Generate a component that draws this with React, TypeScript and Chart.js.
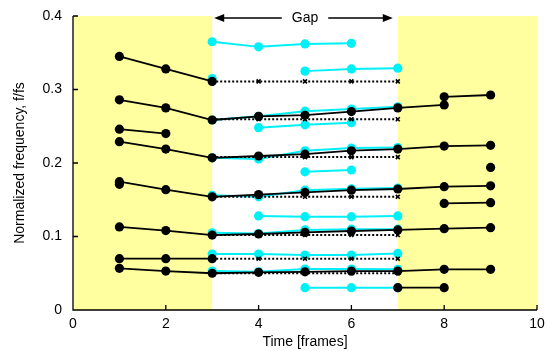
import React, { useEffect, useRef } from 'react';
import { Chart, registerables } from 'chart.js';

Chart.register(...registerables);

// ---- data ----
const xTicks = [0, 2, 4, 6, 8, 10];
const yTicks = [0, 0.1, 0.2, 0.3, 0.4];
const shadedRanges = [[0, 3], [7, 10]];
const gapRange = [3, 7];
const gapLabel = 'Gap';

// black (tracked) series
const b1x = [1, 2, 3];
const b1y = [0.345, 0.328, 0.311];
const b2x = [1, 2, 3, 4, 5, 6, 7, 8];
const b2y = [0.286, 0.275, 0.2585, 0.2635, 0.265, 0.27, 0.275, 0.279];
const b3x = [8, 9];
const b3y = [0.29, 0.2925];
const b4x = [1, 2];
const b4y = [0.246, 0.24];
const b5x = [1, 2, 3, 4, 5, 6, 7, 8, 9];
const b5y = [0.229, 0.219, 0.207, 0.2095, 0.212, 0.2167, 0.219, 0.223, 0.224];
const b6x = [1, 2, 3, 4, 5, 6, 7, 8, 9];
const b6y = [0.1746, 0.1637, 0.154, 0.157, 0.16, 0.163, 0.1646, 0.1678, 0.169];
const b7x = [1];
const b7y = [0.171];
const b8x = [8, 9];
const b8y = [0.145, 0.146];
const b9x = [9];
const b9y = [0.194];
const b10x = [1, 2, 3, 4, 5, 6, 7, 8, 9];
const b10y = [0.113, 0.108, 0.102, 0.1034, 0.1057, 0.1075, 0.109, 0.1107, 0.112];
const b11x = [1, 2, 3];
const b11y = [0.0698, 0.0698, 0.0698];
const b12x = [1, 2, 3, 4, 5, 6, 7, 8, 9];
const b12y = [0.0567, 0.053, 0.05, 0.0513, 0.052, 0.053, 0.053, 0.0553, 0.0553];
const b13x = [7, 8];
const b13y = [0.0304, 0.0304];

// cyan series
const c1x = [3, 4, 5, 6];
const c1y = [0.365, 0.358, 0.362, 0.3628];
const c2x = [5, 6, 7];
const c2y = [0.325, 0.328, 0.329];
const c3x = [3];
const c3y = [0.315];
const c4x = [3, 4, 5, 6, 7];
const c4y = [0.2585, 0.2635, 0.2705, 0.2735, 0.2765];
const c5x = [4, 5, 6];
const c5y = [0.248, 0.252, 0.2548];
const c6x = [3, 4, 5, 6, 7];
const c6y = [0.207, 0.2055, 0.2167, 0.2204, 0.221];
const c7x = [5, 6];
const c7y = [0.188, 0.1905];
const c8x = [3, 4, 5, 6, 7];
const c8y = [0.156, 0.154, 0.163, 0.165, 0.166];
const c9x = [4, 5, 6, 7];
const c9y = [0.128, 0.127, 0.127, 0.128];
const c10x = [3, 4, 5, 6, 7];
const c10y = [0.105, 0.104, 0.109, 0.11, 0.11];
const c11x = [3, 4, 5, 6, 7];
const c11y = [0.0762, 0.0762, 0.0748, 0.0748, 0.077];
const c12x = [3, 4, 5, 6, 7];
const c12y = [0.053, 0.052, 0.0558, 0.0558, 0.0553];
const c13x = [5, 6, 7];
const c13y = [0.0304, 0.0304, 0.0304];

// dotted (held) series
const heldX = [3, 4, 5, 6, 7];
const heldLevels = [0.311, 0.2595, 0.208, 0.154, 0.102, 0.0698, 0.05];

const BLACK = '#000000';
const CYAN = '#00F0F8';
const YELLOW = '#FFFFA0';
const FONT = '"Liberation Sans", Arial, Helvetica, sans-serif';

const pts = (xs: number[], ys: number[]) => xs.map((x, i) => ({ x, y: ys[i] }));

const blackSeries = [
  [b1x, b1y], [b2x, b2y], [b3x, b3y], [b4x, b4y], [b5x, b5y], [b6x, b6y], [b7x, b7y],
  [b8x, b8y], [b9x, b9y], [b10x, b10y], [b11x, b11y], [b12x, b12y], [b13x, b13y],
];
const cyanSeries = [
  [c1x, c1y], [c2x, c2y], [c3x, c3y], [c4x, c4y], [c5x, c5y], [c6x, c6y], [c7x, c7y],
  [c8x, c8y], [c9x, c9y], [c10x, c10y], [c11x, c11y], [c12x, c12y], [c13x, c13y],
];

const decorPlugin = {
  id: 'decor',
  beforeDatasetsDraw(chart: any) {
    const { ctx, scales } = chart;
    const xs = scales.x;
    const ys = scales.y;
    const top = ys.getPixelForValue(yTicks[yTicks.length - 1]);
    const bottom = ys.getPixelForValue(0);
    ctx.save();
    ctx.fillStyle = YELLOW;
    shadedRanges.forEach(([a, b]) => {
      const x0 = xs.getPixelForValue(a);
      const x1 = xs.getPixelForValue(b);
      ctx.fillRect(x0, top, x1 - x0, bottom - top);
    });
    const left = xs.getPixelForValue(0);
    const right = xs.getPixelForValue(10);
    ctx.strokeStyle = '#000';
    ctx.lineWidth = 1.3;
    ctx.beginPath();
    ctx.moveTo(left, top);
    ctx.lineTo(left, bottom);
    ctx.lineTo(right, bottom);
    ctx.stroke();
    ctx.beginPath();
    xTicks.slice(1).forEach((v) => {
      const p = xs.getPixelForValue(v);
      ctx.moveTo(p, bottom);
      ctx.lineTo(p, bottom - 5);
    });
    yTicks.slice(1).forEach((v) => {
      const p = ys.getPixelForValue(v);
      ctx.moveTo(left, p);
      ctx.lineTo(left + 5, p);
    });
    ctx.stroke();
    ctx.restore();
  },
  afterDraw(chart: any) {
    const { ctx, scales } = chart;
    const xs = scales.x;
    const ys = scales.y;
    const y = ys.getPixelForValue(yTicks[yTicks.length - 1]) + 2;
    const xa = xs.getPixelForValue(gapRange[0]);
    const xb = xs.getPixelForValue(gapRange[1]);
    const xm = (xa + xb) / 2;
    ctx.save();
    ctx.fillStyle = '#000';
    ctx.strokeStyle = '#000';
    ctx.lineWidth = 1.3;
    ctx.font = `14px ${FONT}`;
    ctx.textAlign = 'center';
    ctx.textBaseline = 'middle';
    ctx.fillText(gapLabel, xm, y);
    const tw = ctx.measureText(gapLabel).width;
    const a0 = xa + 2;
    const a1 = xm - tw / 2 - 10;
    const b0 = xm + tw / 2 + 10;
    const b1 = xb - 5;
    ctx.beginPath();
    ctx.moveTo(a0 + 8, y);
    ctx.lineTo(a1, y);
    ctx.moveTo(b0, y);
    ctx.lineTo(b1 - 8, y);
    ctx.stroke();
    ctx.beginPath();
    ctx.moveTo(a0, y);
    ctx.lineTo(a0 + 10, y - 4);
    ctx.lineTo(a0 + 10, y + 4);
    ctx.closePath();
    ctx.moveTo(b1, y);
    ctx.lineTo(b1 - 10, y - 4);
    ctx.lineTo(b1 - 10, y + 4);
    ctx.closePath();
    ctx.fill();
    ctx.restore();
  },
};

export default function App() {
  const ref = useRef<HTMLCanvasElement>(null);
  useEffect(() => {
    if (!ref.current) return;
    const datasets: any[] = [];
    blackSeries.forEach(([xs, ys]) => {
      datasets.push({
        data: pts(xs as number[], ys as number[]),
        borderColor: BLACK,
        backgroundColor: BLACK,
        borderWidth: 1.8,
        pointRadius: 4.6,
        pointBorderWidth: 0,
        pointBackgroundColor: BLACK,
        tension: 0,
      });
    });
    heldLevels.forEach((lvl) => {
      datasets.push({
        data: pts(heldX, heldX.map(() => lvl)),
        borderColor: BLACK,
        borderWidth: 2,
        borderDash: [2, 2],
        pointStyle: 'crossRot',
        pointRadius: 2.8,
        pointBorderWidth: 1.6,
        pointBorderColor: BLACK,
        tension: 0,
      });
    });
    cyanSeries.forEach(([xs, ys]) => {
      datasets.push({
        data: pts(xs as number[], ys as number[]),
        borderColor: CYAN,
        backgroundColor: CYAN,
        borderWidth: 2,
        pointRadius: 4.6,
        pointBorderWidth: 0,
        pointBackgroundColor: CYAN,
        tension: 0,
      });
    });
    const chart = new Chart(ref.current, {
      type: 'line',
      data: { datasets },
      plugins: [decorPlugin],
      options: {
        animation: false,
        responsive: false,
        maintainAspectRatio: false,
        layout: { padding: { top: 16, right: 10, left: 0, bottom: 0 } },
        plugins: { legend: { display: false }, tooltip: { enabled: false } },
        scales: {
          x: {
            type: 'linear',
            min: 0,
            max: 10,
            afterBuildTicks: (s: any) => { s.ticks = xTicks.map((v) => ({ value: v })); },
            afterFit: (s: any) => { s.height = 41; s.paddingLeft = 0; s.paddingRight = 0; },
            grid: { display: false, drawTicks: false },
            border: { display: false },
            ticks: { color: '#000', font: { family: FONT, size: 14 }, padding: 6, maxRotation: 0 },
            title: { display: true, text: 'Time [frames]', color: '#000', font: { family: FONT, size: 14 }, padding: { top: 0, bottom: 0 } },
          },
          y: {
            type: 'linear',
            min: 0,
            max: 0.4,
            afterBuildTicks: (s: any) => { s.ticks = yTicks.map((v) => ({ value: v })); },
            afterFit: (s: any) => { s.width = 73; s.paddingTop = 0; s.paddingBottom = 0; },
            grid: { display: false, drawTicks: false },
            border: { display: false },
            ticks: { color: '#000', font: { family: FONT, size: 14 }, padding: 11, callback: (v: any) => String(Number(v)) },
            title: { display: true, text: 'Normalized frequency, f/fs', color: '#000', font: { family: FONT, size: 14 }, padding: { top: 11.5, bottom: 0 } },
          },
        },
      },
    });
    return () => chart.destroy();
  }, []);
  return (
    <div style={{ position: 'absolute', left: 0, top: 0, width: 547, height: 351 }}>
      <canvas ref={ref} width={547} height={351} style={{ display: 'block' }} />
    </div>
  );
}
